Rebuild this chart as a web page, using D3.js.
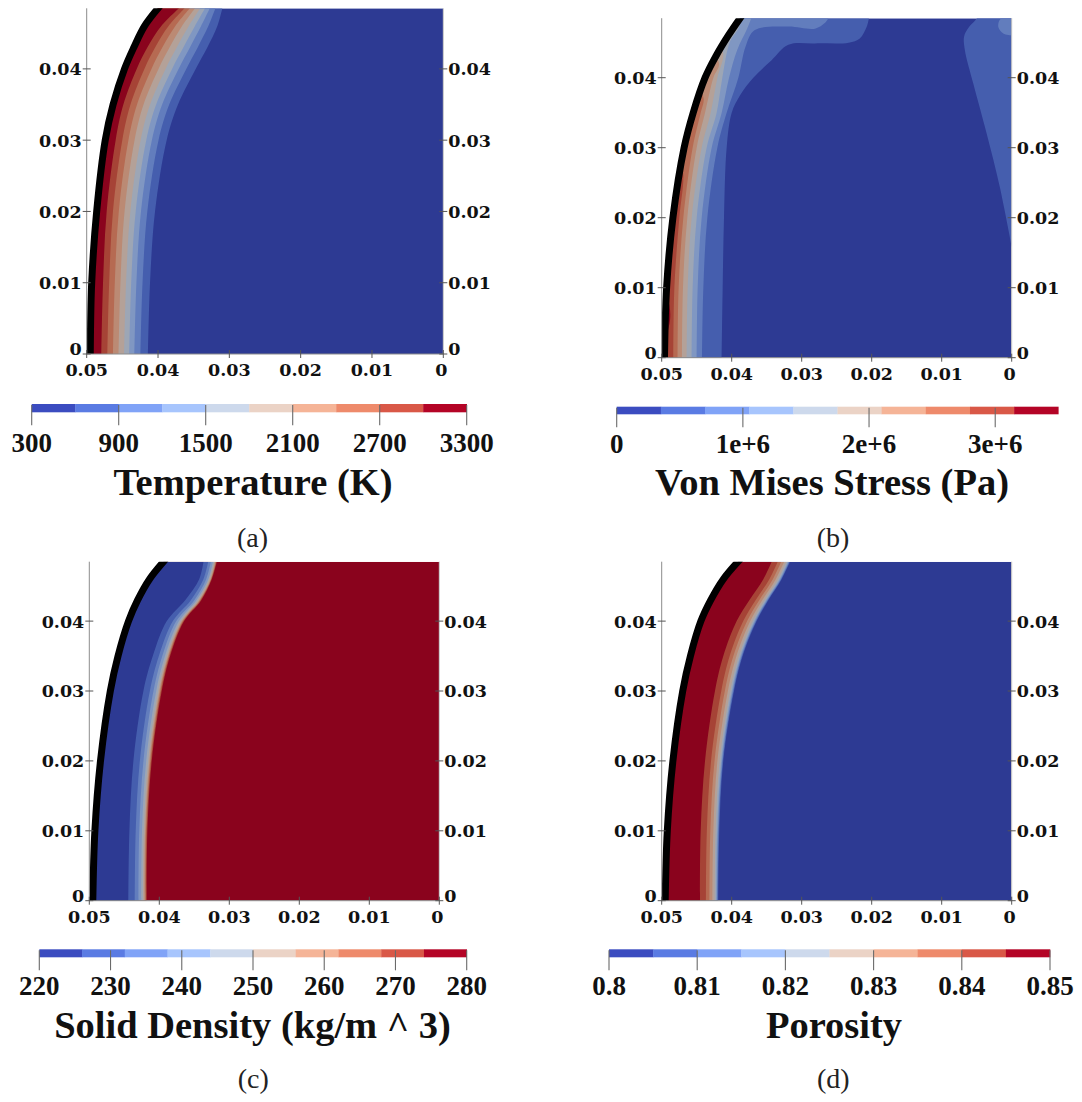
<!DOCTYPE html>
<html>
<head>
<meta charset="utf-8">
<script src="https://cdn.jsdelivr.net/npm/d3@7"></script>
<style>
  html, body { margin: 0; padding: 0; background: #fff; }
  svg { display: block; }
</style>
</head>
<body>
<svg id="fig" width="1082" height="1102"></svg>
<script>
// ---------------------------------------------------------------
// Data: axial stations (m) at which each front position is given
// ---------------------------------------------------------------
const stationY = [0, 0.01, 0.02, 0.03, 0.035, 0.04, 0.043, 0.046, 0.0485];
const yTop = 0.0485;

const axisTicksY = [0, 0.01, 0.02, 0.03, 0.04];
const axisLabelsY = ["0", "0.01", "0.02", "0.03", "0.04"];
const axisTicksX = [0.05, 0.04, 0.03, 0.02, 0.01, 0];
const axisLabelsX = ["0.05", "0.04", "0.03", "0.02", "0.01", "0"];

// heated surface (radial position x, m) at each station, per snapshot
const wallTemperature = [0.0495, 0.0493, 0.0486, 0.0474, 0.0463, 0.0447, 0.0434, 0.0419, 0.0400];
const wallStress      = [0.0496, 0.0493, 0.0484, 0.0468, 0.0455, 0.0438, 0.0423, 0.0405, 0.0388];
const wallDensity     = [0.0495, 0.0492, 0.0484, 0.0470, 0.0459, 0.0444, 0.0431, 0.0414, 0.0394];
const wallPorosity    = [0.0495, 0.0492, 0.0484, 0.0470, 0.0459, 0.0444, 0.0430, 0.0412, 0.0391];

// 10-bin cool-to-warm palette shared by all colour bars
const legendColors = ["#3b4cc0", "#5a7be3", "#80a3f7", "#a7c5fd", "#cdd9ec",
                      "#ebd3c6", "#f5b497", "#ee8a6b", "#d95847", "#b40426"];

// Temperature (K): isotherm positions x (m) at each station
const temperatureRange = [300, 3300];
const temperatureLevels = [600, 900, 1200, 1500, 1800, 2100, 2400, 2700, 3000];
const temperatureFronts = [
  [0.04141, 0.04112, 0.04042, 0.03879, 0.03720, 0.03472, 0.03309, 0.03168, 0.03098],
  [0.04246, 0.04217, 0.04150, 0.03993, 0.03843, 0.03604, 0.03444, 0.03294, 0.03195],
  [0.04331, 0.04303, 0.04239, 0.04086, 0.03942, 0.03712, 0.03553, 0.03396, 0.03274],
  [0.04403, 0.04376, 0.04313, 0.04165, 0.04026, 0.03803, 0.03645, 0.03482, 0.03341],
  [0.04475, 0.04448, 0.04388, 0.04244, 0.04111, 0.03894, 0.03738, 0.03569, 0.03408],
  [0.04553, 0.04527, 0.04469, 0.04329, 0.04203, 0.03993, 0.03839, 0.03663, 0.03481],
  [0.04631, 0.04606, 0.04550, 0.04415, 0.04294, 0.04092, 0.03940, 0.03757, 0.03554],
  [0.04710, 0.04685, 0.04632, 0.04501, 0.04386, 0.04191, 0.04041, 0.03852, 0.03627],
  [0.04795, 0.04771, 0.04720, 0.04594, 0.04486, 0.04299, 0.04150, 0.03954, 0.03706]
];
const temperatureTicks = [300, 900, 1500, 2100, 2700, 3300];
const temperatureTickLabels = ["300", "900", "1500", "2100", "2700", "3300"];

// Von Mises stress (Pa): iso-lines as [x, y] pairs (m)
const stressRange = [0, 3.5e6];
const stressLevels = [3.5e5, 7.0e5, 1.05e6, 1.4e6, 1.75e6, 2.1e6, 2.45e6, 2.8e6, 3.15e6];
const stressFronts = [
  [[0.04143, 0], [0.04129, 0.01], [0.04110, 0.02], [0.04072, 0.03], [0.04000, 0.035], [0.0388, 0.0375],
   [0.03691, 0.04], [0.0343, 0.0425], [0.0319, 0.0447], [0.0281, 0.0449], [0.0233, 0.0450],
   [0.0217, 0.0456], [0.0207, 0.0473], [0.0204, 0.0485]],
  [[0.04424, 0], [0.04405, 0.01], [0.04348, 0.02], [0.04205, 0.03], [0.04072, 0.035], [0.03905, 0.04],
   [0.0380, 0.0445], [0.0367, 0.0468], [0.0319, 0.0473], [0.0281, 0.0470], [0.0267, 0.0478], [0.0262, 0.0485]],
  [[0.04500, 0], [0.04486, 0.01], [0.04429, 0.02], [0.04286, 0.03], [0.04143, 0.035], [0.04038, 0.04],
   [0.0392, 0.044], [0.0378, 0.047], [0.0372, 0.0485]],
  [[0.04572, 0], [0.04558, 0.01], [0.04500, 0.02], [0.04358, 0.03], [0.04215, 0.035], [0.04134, 0.04],
   [0.0403, 0.045], [0.0389, 0.0475], [0.0395, 0.0485]],
  [[0.04643, 0], [0.04629, 0.01], [0.04572, 0.02], [0.04429, 0.03], [0.04300, 0.035], [0.04205, 0.04],
   [0.0412, 0.0435], [0.0425, 0.046]],
  [[0.04710, 0], [0.04696, 0.01], [0.04634, 0.02], [0.04500, 0.03], [0.04381, 0.035], [0.04262, 0.04],
   [0.0418, 0.042], [0.0430, 0.044]],
  [[0.04772, 0], [0.04758, 0.01], [0.04691, 0.02], [0.04558, 0.03], [0.04443, 0.035], [0.0440, 0.037],
   [0.0452, 0.040]],
  [[0.04834, 0], [0.04819, 0.01], [0.04748, 0.02], [0.0469, 0.026], [0.0474, 0.030]],
  [[0.0497, 0], [0.0493, 0.003], [0.0488, 0.0055], [0.0489, 0.0075], [0.0496, 0.0095], [0.0505, 0.011]]
];
// regions along the symmetry axis (x = 0), bounded by the listed line and the axis
const stressEdgeBand = [[0, 0.0159], [0.0017, 0.0244], [0.0036, 0.0321], [0.0055, 0.0392], [0.0067, 0.0440],
                        [0.0068, 0.0459], [0.0062, 0.0471], [0.0052, 0.0482], [0.0049, 0.0486]];
const stressCornerSpot = [[0, 0.0460], [0.0012, 0.0463], [0.0019, 0.0472], [0.0018, 0.0481], [0.0014, 0.0486]];
const stressTicks = [0, 1e6, 2e6, 3e6];
const stressTickLabels = ["0", "1e+6", "2e+6", "3e+6"];

// Solid density (kg/m^3): iso-lines, innermost (highest) first
const densityRange = [220, 280];
const densityLevels = [274, 268, 262, 256, 250, 244, 238, 232, 226];
const densityFronts = [
  [0.04179, 0.04170, 0.04108, 0.03965, 0.03845, 0.03645, 0.03400, 0.03250, 0.03178],
  [0.04190, 0.04180, 0.04118, 0.03975, 0.03855, 0.03655, 0.03410, 0.03258, 0.03186],
  [0.04200, 0.04191, 0.04129, 0.03986, 0.03865, 0.03665, 0.03420, 0.03262, 0.03193],
  [0.04213, 0.04203, 0.04142, 0.03999, 0.03877, 0.03677, 0.03430, 0.03270, 0.03203],
  [0.04232, 0.04221, 0.04160, 0.04017, 0.03895, 0.03695, 0.03450, 0.03290, 0.03216],
  [0.04258, 0.04247, 0.04187, 0.04044, 0.03919, 0.03719, 0.03470, 0.03300, 0.03235],
  [0.04297, 0.04286, 0.04226, 0.04083, 0.03957, 0.03757, 0.03500, 0.03330, 0.03264],
  [0.04350, 0.04337, 0.04278, 0.04135, 0.04006, 0.03806, 0.03550, 0.03370, 0.03302],
  [0.04442, 0.04427, 0.04370, 0.04227, 0.04093, 0.03893, 0.03630, 0.03430, 0.03369]
];
const densityTicks = [220, 230, 240, 250, 260, 270, 280];
const densityTickLabels = ["220", "230", "240", "250", "260", "270", "280"];

// Porosity (-): iso-lines, innermost (lowest) first
const porosityRange = [0.8, 0.85];
const porosityLevels = [0.805, 0.81, 0.815, 0.82, 0.825, 0.83, 0.835, 0.84, 0.845];
const porosityFronts = [
  [0.04191, 0.04177, 0.04120, 0.03967, 0.03843, 0.03643, 0.03477, 0.03286, 0.03167],
  [0.04199, 0.04185, 0.04128, 0.03975, 0.03851, 0.03652, 0.03485, 0.03294, 0.03175],
  [0.04209, 0.04196, 0.04138, 0.03986, 0.03862, 0.03663, 0.03496, 0.03304, 0.03185],
  [0.04222, 0.04209, 0.04151, 0.04000, 0.03876, 0.03677, 0.03510, 0.03317, 0.03198],
  [0.04243, 0.04230, 0.04172, 0.04021, 0.03898, 0.03700, 0.03531, 0.03338, 0.03219],
  [0.04275, 0.04262, 0.04204, 0.04054, 0.03932, 0.03735, 0.03564, 0.03370, 0.03251],
  [0.04317, 0.04305, 0.04245, 0.04098, 0.03976, 0.03780, 0.03607, 0.03412, 0.03293],
  [0.04367, 0.04355, 0.04295, 0.04149, 0.04029, 0.03835, 0.03659, 0.03462, 0.03343],
  [0.04453, 0.04443, 0.04381, 0.04239, 0.04120, 0.03929, 0.03748, 0.03548, 0.03429]
];
const porosityTicks = [0.8, 0.81, 0.82, 0.83, 0.84, 0.85];
const porosityTickLabels = ["0.8", "0.81", "0.82", "0.83", "0.84", "0.85"];

// ---------------------------------------------------------------
// Drawing
// ---------------------------------------------------------------
const svg = d3.select("#fig");
const defs = svg.append("defs");
const fieldColors = legendColors.map(c => d3.rgb(c).darker(0.75).formatHex());
const SERIF = "'Liberation Serif', 'Times New Roman', serif";
const AXISFONT = "'DejaVu Serif', serif";
const AXISSIZE = 17.5;

// bin index (0..9) of the band just above a threshold
const binOf = (range, t) => Math.round((t - range[0]) / ((range[1] - range[0]) / 10));
const atStations = xs => stationY.map((yy, i) => [xs[i], yy]);

function axisText(g, x, y, anchor, label) {
  g.append("text").attr("x", x).attr("y", y).attr("text-anchor", anchor)
    .attr("font-family", AXISFONT).attr("font-weight", "bold").attr("font-size", AXISSIZE)
    .attr("fill", "#111").text(label);
}

function drawPanel(key, spec) {
  const f = spec.frame;
  const g = svg.append("g").attr("transform", `translate(${f.left},${f.top})`);
  const x = d3.scaleLinear().domain([0.05, 0]).range([0, f.width]);
  const y = d3.scaleLinear().domain([0, yTop]).range([f.height, 0]);
  const line = d3.line().x(d => x(d[0])).y(d => y(d[1])).curve(d3.curveCatmullRom.alpha(0.5));
  const wallPts = atStations(spec.wall);

  defs.append("clipPath").attr("id", `dom-${key}`)
    .append("path")
    .attr("d", line(wallPts) + `L${x(0)},${y(yTop)}L${x(0)},${y(0)}Z`);
  defs.append("clipPath").attr("id", `box-${key}`)
    .append("rect").attr("width", f.width).attr("height", f.height);

  const field = g.append("g").attr("clip-path", `url(#dom-${key})`);
  field.append("rect").attr("width", f.width).attr("height", f.height)
    .attr("fill", fieldColors[spec.base]);

  // region on the surface side of each iso-line
  spec.layers.forEach(l => {
    const p = l.pts, a = p[0], b = p[p.length - 1];
    field.append("path")
      .attr("d", line(p) + `L${x(0.06)},${y(b[1])}L${x(0.06)},${y(a[1])}Z`)
      .attr("fill", fieldColors[l.bin]);
  });
  // region on the axis side of a line
  (spec.axisLayers || []).forEach(l => {
    const p = l.pts, a = p[0], b = p[p.length - 1];
    field.append("path")
      .attr("d", line(p) + `L${x(-0.002)},${y(b[1])}L${x(-0.002)},${y(a[1])}Z`)
      .attr("fill", fieldColors[l.bin]);
  });

  // heated surface
  g.append("path").attr("d", line(wallPts))
    .attr("fill", "none").attr("stroke", "#000").attr("stroke-width", 7)
    .attr("stroke-linecap", "square")
    .attr("clip-path", `url(#box-${key})`);

  // axes
  const W = f.width, H = f.height;
  g.append("line").attr("x1", 0).attr("y1", 0).attr("x2", 0).attr("y2", H)
    .attr("stroke", "#8c8c8c").attr("stroke-width", 1);
  g.append("line").attr("x1", 0).attr("y1", H).attr("x2", W).attr("y2", H)
    .attr("stroke", "#8c8c8c").attr("stroke-width", 1);
  g.append("line").attr("x1", W).attr("y1", 0).attr("x2", W).attr("y2", H)
    .attr("stroke", "#c4c4c4").attr("stroke-width", 1);

  axisTicksY.forEach((t, i) => {
    const yy = y(t);
    const base = t === 0 ? yy + 1 : yy + 6.5;
    g.append("line").attr("x1", -4).attr("x2", 4).attr("y1", yy).attr("y2", yy)
      .attr("stroke", "#555").attr("stroke-width", 1);
    g.append("line").attr("x1", W - 4).attr("x2", W + 4).attr("y1", yy).attr("y2", yy)
      .attr("stroke", "#555").attr("stroke-width", 1);
    axisText(g, -5, base, "end", axisLabelsY[i]);
    axisText(g, W + 5, base, "start", axisLabelsY[i]);
  });
  axisTicksX.forEach((t, i) => {
    const xx = x(t);
    g.append("line").attr("x1", xx).attr("x2", xx).attr("y1", H - 4).attr("y2", H + 4)
      .attr("stroke", "#555").attr("stroke-width", 1);
    axisText(g, t === 0 ? xx - 2 : xx, H + 22, "middle", axisLabelsX[i]);
  });
}

function drawColorbar(cb) {
  const s = d3.scaleLinear().domain(cb.range).range([cb.x0, cb.x1]);
  const step = (cb.range[1] - cb.range[0]) / 10;
  const g = svg.append("g");
  d3.range(10).forEach(i => {
    const a = s(cb.range[0] + i * step), b = s(cb.range[0] + (i + 1) * step);
    g.append("rect").attr("x", a).attr("y", cb.y).attr("width", b - a + 0.3).attr("height", cb.h)
      .attr("fill", legendColors[i]);
  });
  cb.ticks.forEach((t, i) => {
    const xx = s(t);
    g.append("line").attr("x1", xx).attr("x2", xx).attr("y1", cb.y + 1).attr("y2", cb.y + cb.h + 13)
      .attr("stroke", "#6a6a6a").attr("stroke-width", 1.1);
    g.append("text").attr("x", xx).attr("y", cb.labelY).attr("text-anchor", "middle")
      .attr("font-family", SERIF).attr("font-weight", "bold").attr("font-size", 27)
      .attr("fill", "#111").text(cb.labels[i]);
  });
  g.append("text").attr("x", cb.titleX).attr("y", cb.titleY).attr("text-anchor", "middle")
    .attr("font-family", SERIF).attr("font-weight", "bold").attr("font-size", 38.5)
    .attr("fill", "#111").text(cb.title);
  g.append("text").attr("x", cb.capX).attr("y", cb.capY).attr("text-anchor", "middle")
    .attr("font-family", SERIF).attr("font-size", 28)
    .attr("fill", "#222").text(cb.caption);
}

// (a) temperature: hotter towards the surface
drawPanel("a", {
  frame: { left: 86.7, top: 8.3, width: 356.6, height: 345.7 },
  wall: wallTemperature,
  base: 0,
  layers: temperatureLevels.map((t, i) => ({ pts: atStations(temperatureFronts[i]), bin: binOf(temperatureRange, t) }))
});
// (b) von Mises stress
drawPanel("b", {
  frame: { left: 661.7, top: 18.2, width: 350, height: 339.5 },
  wall: wallStress,
  base: 0,
  layers: stressLevels.map((t, i) => ({ pts: stressFronts[i], bin: binOf(stressRange, t) })),
  axisLayers: [
    { pts: stressEdgeBand, bin: binOf(stressRange, stressLevels[0]) },
    { pts: stressCornerSpot, bin: binOf(stressRange, stressLevels[1]) }
  ]
});
// (c) solid density: charred (low) near the surface
drawPanel("c", {
  frame: { left: 89.3, top: 561.7, width: 350, height: 339 },
  wall: wallDensity,
  base: 9,
  layers: densityLevels.map((t, i) => ({ pts: atStations(densityFronts[i]), bin: binOf(densityRange, t) - 1 }))
});
// (d) porosity: high near the surface
drawPanel("d", {
  frame: { left: 661.7, top: 561.7, width: 350, height: 339 },
  wall: wallPorosity,
  base: 0,
  layers: porosityLevels.map((t, i) => ({ pts: atStations(porosityFronts[i]), bin: binOf(porosityRange, t) }))
});

drawColorbar({ range: temperatureRange, x0: 31.7, x1: 466.7, y: 404, h: 8.3, labelY: 451.7,
  ticks: temperatureTicks, labels: temperatureTickLabels,
  title: "Temperature (K)", titleX: 253, titleY: 495, caption: "(a)", capX: 252.5, capY: 547 });
drawColorbar({ range: stressRange, x0: 616.7, x1: 1058.3, y: 406.7, h: 7.6, labelY: 453.3,
  ticks: stressTicks, labels: stressTickLabels,
  title: "Von Mises Stress (Pa)", titleX: 832, titleY: 495, caption: "(b)", capX: 833, capY: 547 });
drawColorbar({ range: densityRange, x0: 39.3, x1: 466.7, y: 949.3, h: 8, labelY: 995,
  ticks: densityTicks, labels: densityTickLabels,
  title: "Solid Density (kg/m ^ 3)", titleX: 252.5, titleY: 1038.3, caption: "(c)", capX: 253.3, capY: 1088 });
drawColorbar({ range: porosityRange, x0: 609, x1: 1050, y: 949.3, h: 8, labelY: 995,
  ticks: porosityTicks, labels: porosityTickLabels,
  title: "Porosity", titleX: 834, titleY: 1038.3, caption: "(d)", capX: 833.3, capY: 1088 });
</script>
</body>
</html>
